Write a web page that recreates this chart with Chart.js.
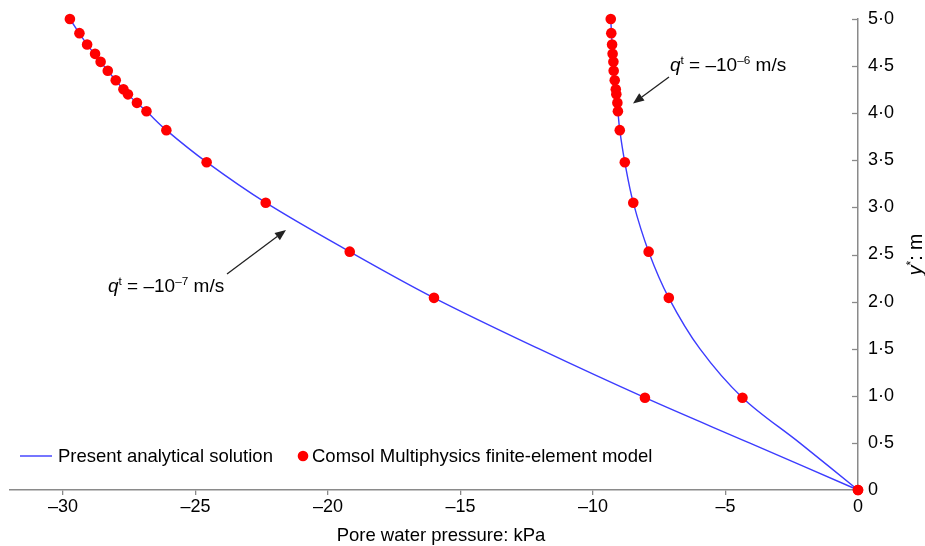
<!DOCTYPE html>
<html><head><meta charset="utf-8">
<script src="https://cdn.jsdelivr.net/npm/chart.js@4.4.1/dist/chart.umd.min.js"></script>
<style>html,body{margin:0;padding:0;background:#fff;} #wrap{width:925px;height:546px;position:relative;}</style>
</head><body><div id="wrap"><canvas id="c" width="925" height="546"></canvas></div>
<script>
// Depth (y*, m) of the finite-element result points
const depthFE = [5.0, 4.85, 4.73, 4.63, 4.545, 4.45, 4.35, 4.255, 4.20, 4.11, 4.02, 3.82, 3.48, 3.05, 2.53, 2.04, 0.98, 0];
// Pore water pressure (kPa), q^t = -1e-7 m/s, Comsol
const pressureFE7 = [-29.74, -29.38, -29.09, -28.79, -28.58, -28.31, -28.01, -27.72, -27.55, -27.21, -26.85, -26.10, -24.58, -22.35, -19.18, -16.0, -8.04, 0];
// Pore water pressure (kPa), q^t = -1e-6 m/s, Comsol
const pressureFE6 = [-9.33, -9.31, -9.28, -9.26, -9.23, -9.22, -9.18, -9.14, -9.12, -9.08, -9.06, -8.99, -8.80, -8.48, -7.90, -7.14, -4.36, 0];

// Analytical solution
const depthLine = [0, 0.5, 0.98, 1.5, 2.04, 2.53, 3.05, 3.48, 3.82, 4.02, 4.2, 4.45, 4.73, 5.0];
const pressureLine7 = [0, -4.1, -8.04, -12.05, -16.0, -19.18, -22.35, -24.58, -26.10, -26.85, -27.55, -28.31, -29.09, -29.74];
const pressureLine6 = [0, -2.2, -4.36, -5.97, -7.14, -7.90, -8.48, -8.80, -8.99, -9.06, -9.12, -9.22, -9.28, -9.33];

const xTickValues = [-30, -25, -20, -15, -10, -5, 0];
const xTickLabels = ['–30', '–25', '–20', '–15', '–10', '–5', '0'];
const yTickValues = [0, 0.5, 1, 1.5, 2, 2.5, 3, 3.5, 4, 4.5, 5];
const yTickLabels = ['0', '0·5', '1·0', '1·5', '2·0', '2·5', '3·0', '3·5', '4·0', '4·5', '5·0'];

const legendLabels = ['Present analytical solution', 'Comsol Multiphysics finite-element model'];
const xTitle = 'Pore water pressure: kPa';

const FONT = '"Liberation Sans", Arial, Helvetica, sans-serif';
const AXIS_COLOR = '#8a8a8a';
const LINE_COLOR = '#3c3cff';
const DOT_COLOR = '#ff0000';

const toXY = (xs, ys) => xs.map((x, i) => ({x: x, y: ys[i]}));

function drawRich(ctx, parts, x, y, size) {
  let cx = x;
  parts.forEach(p => {
    const s = p.sup ? size * 0.62 : size;
    ctx.font = (p.italic ? 'italic ' : '') + s + 'px ' + FONT;
    const dy = p.sup ? -size * 0.38 : 0;
    ctx.fillText(p.t, cx, y + dy);
    cx += ctx.measureText(p.t).width;
  });
  return cx - x;
}
function richWidth(ctx, parts, size) {
  let w = 0;
  parts.forEach(p => {
    const s = p.sup ? size * 0.62 : size;
    ctx.font = (p.italic ? 'italic ' : '') + s + 'px ' + FONT;
    w += ctx.measureText(p.t).width;
  });
  return w;
}
function arrow(ctx, x1, y1, x2, y2) {
  ctx.save();
  ctx.strokeStyle = '#222'; ctx.fillStyle = '#222'; ctx.lineWidth = 1.3;
  const a = Math.atan2(y2 - y1, x2 - x1);
  const L = 11, W = 4.5;
  const bx = x2 - L * Math.cos(a), by = y2 - L * Math.sin(a);
  ctx.beginPath(); ctx.moveTo(x1, y1); ctx.lineTo(bx, by); ctx.stroke();
  ctx.beginPath();
  ctx.moveTo(x2, y2);
  ctx.lineTo(bx + W * Math.sin(a), by - W * Math.cos(a));
  ctx.lineTo(bx - W * Math.sin(a), by + W * Math.cos(a));
  ctx.closePath(); ctx.fill();
  ctx.restore();
}

const decor = {
  id: 'decor',
  beforeDatasetsDraw(chart) {
    const ctx = chart.ctx, ys = chart.scales.y;
    ctx.save();
    ctx.strokeStyle = AXIS_COLOR; ctx.lineWidth = 1.3;
    yTickValues.forEach(v => {
      if (v === 0) return;
      const py = Math.round(ys.getPixelForValue(v)) + 0.5;
      ctx.beginPath(); ctx.moveTo(ys.left - 6, py); ctx.lineTo(ys.left, py); ctx.stroke();
    });
    ctx.restore();
  },
  afterDraw(chart) {
    const ctx = chart.ctx, ca = chart.chartArea;
    ctx.save();
    ctx.fillStyle = '#000';
    ctx.textBaseline = 'alphabetic';
    // x title
    ctx.font = '18.5px ' + FONT;
    ctx.textAlign = 'center';
    ctx.fillText(xTitle, 441, 541);
    // y title (rotated)
    ctx.save();
    ctx.translate(922, (ca.top + ca.bottom) / 2);
    ctx.rotate(-Math.PI / 2);
    ctx.textAlign = 'left';
    const yParts = [{t: 'y', italic: true}, {t: '*', sup: true}, {t: ': m'}];
    const yw = richWidth(ctx, yParts, 19.5);
    drawRich(ctx, yParts, -yw / 2, 0, 19.5);
    ctx.restore();
    // annotations
    ctx.textAlign = 'left';
    drawRich(ctx, [{t: 'q', italic: true}, {t: 't', sup: true}, {t: ' = –10'}, {t: '–7', sup: true}, {t: ' m/s'}], 108, 292, 19);
    drawRich(ctx, [{t: 'q', italic: true}, {t: 't', sup: true}, {t: ' = –10'}, {t: '–6', sup: true}, {t: ' m/s'}], 670, 71, 19);
    arrow(ctx, 227, 274, 286, 230);
    arrow(ctx, 669, 77, 633, 103.5);
    // legend
    const ly = 456;
    ctx.strokeStyle = LINE_COLOR; ctx.lineWidth = 1.4;
    ctx.beginPath(); ctx.moveTo(20, ly); ctx.lineTo(52, ly); ctx.stroke();
    ctx.font = '18.5px ' + FONT;
    ctx.textBaseline = 'middle';
    ctx.fillText(legendLabels[0], 58, ly + 1);
    ctx.fillStyle = DOT_COLOR;
    ctx.beginPath(); ctx.arc(303, ly, 5.3, 0, Math.PI * 2); ctx.fill();
    ctx.fillStyle = '#000';
    ctx.fillText(legendLabels[1], 312, ly + 1);
    ctx.restore();
  }
};

new Chart(document.getElementById('c'), {
  type: 'scatter',
  data: {
    datasets: [
      {label: legendLabels[1] + ' 7', data: toXY(pressureFE7, depthFE), pointRadius: 5.3, pointBackgroundColor: DOT_COLOR, pointBorderWidth: 0, showLine: false, clip: false},
      {label: legendLabels[1] + ' 6', data: toXY(pressureFE6, depthFE), pointRadius: 5.3, pointBackgroundColor: DOT_COLOR, pointBorderWidth: 0, showLine: false, clip: false},
      {label: legendLabels[0] + ' 7', data: toXY(pressureLine7, depthLine), showLine: true, pointRadius: 0, borderColor: LINE_COLOR, borderWidth: 1.4, tension: 0.35, clip: false},
      {label: legendLabels[0] + ' 6', data: toXY(pressureLine6, depthLine), showLine: true, pointRadius: 0, borderColor: LINE_COLOR, borderWidth: 1.4, tension: 0.35, clip: false}
    ]
  },
  options: {
    responsive: false,
    animation: false,
    events: [],
    layout: {padding: {top: 19, left: 10, right: 0, bottom: 0}},
    plugins: {legend: {display: false}, tooltip: {enabled: false}, title: {display: false}},
    scales: {
      x: {
        type: 'linear', position: 'bottom', min: -32, max: 0,
        afterBuildTicks: s => { s.ticks = xTickValues.map(v => ({value: v})); },
        afterFit: s => { s.height = 56; },
        grid: {display: true, drawOnChartArea: false, drawTicks: true, tickLength: 5, color: AXIS_COLOR, lineWidth: 1.3},
        border: {display: true, color: AXIS_COLOR, width: 1.5},
        ticks: {color: '#000', font: {family: FONT, size: 18}, padding: 1,
          callback: (v) => { const i = xTickValues.indexOf(v); return i >= 0 ? xTickLabels[i] : ''; }}
      },
      y: {
        type: 'linear', position: 'right', min: 0, max: 5,
        afterBuildTicks: s => { s.ticks = yTickValues.map(v => ({value: v})); },
        afterFit: s => { s.width = 67; },
        grid: {display: false},
        border: {display: true, color: AXIS_COLOR, width: 1.5},
        ticks: {color: '#000', font: {family: FONT, size: 18}, padding: 2,
          callback: (v) => { const i = yTickValues.indexOf(v); return i >= 0 ? yTickLabels[i] : ''; }}
      }
    }
  },
  plugins: [decor]
});
</script>
</body></html>
